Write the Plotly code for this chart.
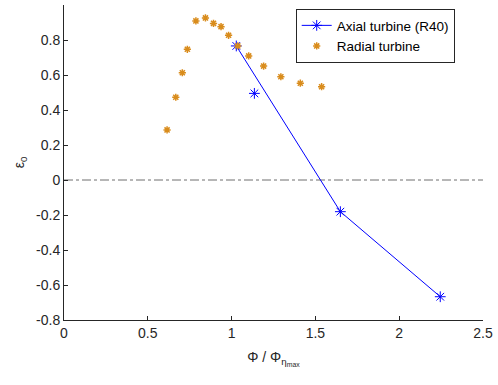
import plotly.graph_objects as go

# Axial turbine (R40) – connected series
axial_x = [1.028, 1.649, 2.245]
axial_y = [0.766, -0.181, -0.667]
# Axial turbine extra (unconnected) point
axial_extra_x = [1.136]
axial_extra_y = [0.495]

# Radial turbine
radial_x = [0.615, 0.667, 0.706, 0.736, 0.787, 0.844, 0.892, 0.937, 0.982,
            1.037, 1.102, 1.191, 1.294, 1.410, 1.537]
radial_y = [0.286, 0.473, 0.613, 0.747, 0.909, 0.926, 0.895, 0.876, 0.827,
            0.766, 0.709, 0.651, 0.590, 0.553, 0.533]

# Zero reference line
ref_x = [0, 2.5]
ref_y = [0, 0]

x_ticks = [0, 0.5, 1, 1.5, 2, 2.5]
x_ticktext = ["0", "0.5", "1", "1.5", "2", "2.5"]
y_ticks = [-0.8, -0.6, -0.4, -0.2, 0, 0.2, 0.4, 0.6, 0.8]
y_ticktext = ["-0.8", "-0.6", "-0.4", "-0.2", "0", "0.2", "0.4", "0.6", "0.8"]

BLUE = "#0000FF"
ORANGE = "#D98C1C"
AX = "#262626"
FONT = "Liberation Sans, Arial, sans-serif"

fig = go.Figure()
fig.add_trace(go.Scatter(x=ref_x, y=ref_y, mode="lines",
                         line=dict(color="#6e6e6e", width=1, dash="dashdot"),
                         showlegend=False, hoverinfo="skip"))
fig.add_trace(go.Scatter(x=axial_x, y=axial_y, mode="lines+markers",
                         name="Axial turbine (R40)",
                         line=dict(color=BLUE, width=1),
                         marker=dict(symbol="asterisk-open", size=9,
                                     line=dict(color=BLUE, width=1))))
fig.add_trace(go.Scatter(x=axial_extra_x, y=axial_extra_y, mode="markers",
                         showlegend=False,
                         marker=dict(symbol="asterisk-open", size=9,
                                     color=BLUE,
                                     line=dict(color=BLUE, width=1))))
fig.add_trace(go.Scatter(x=radial_x, y=radial_y, mode="markers",
                         name="Radial turbine",
                         marker=dict(symbol="asterisk-open", size=6,
                                     color=ORANGE,
                                     line=dict(color=ORANGE, width=1.5))))

fig.update_layout(
    width=498, height=385,
    margin=dict(l=64, r=11, t=5, b=65),
    paper_bgcolor="white", plot_bgcolor="white",
    font=dict(family=FONT, size=14, color=AX),
    legend=dict(x=0.553, y=0.987, xanchor="left", yanchor="top",
                bgcolor="white", bordercolor=AX, borderwidth=1,
                font=dict(size=13.5, color="#000000"),
                tracegroupgap=0, itemwidth=30),
    xaxis=dict(range=[0, 2.5], tickvals=x_ticks, ticktext=x_ticktext,
               showline=True, linecolor=AX, linewidth=1, mirror=False,
               ticks="inside", ticklen=4, tickcolor=AX, showgrid=False,
               zeroline=False, ticklabeloverflow="allow",
               title=dict(text="Φ / Φ<sub>η<sub>max</sub></sub>",
                          font=dict(size=14, color=AX), standoff=12)),
    yaxis=dict(range=[-0.8, 1.0], tickvals=y_ticks, ticktext=y_ticktext,
               showline=True, linecolor=AX, linewidth=1, mirror=False,
               ticks="inside", ticklen=4, tickcolor=AX, showgrid=False,
               zeroline=False, ticklabeloverflow="allow",
               title=dict(text="ε<sub>0</sub>",
                          font=dict(size=14, color=AX), standoff=8)),
)

fig.write_html("out.html", config={"displayModeBar": False, "staticPlot": True})

# remove the browser's default page margin so the figure sits at (0, 0)
with open("out.html", "r", encoding="utf-8") as f:
    html = f.read()
html = html.replace("<head>", "<head><style>html,body{margin:0;padding:0;overflow:hidden;}</style>", 1)
with open("out.html", "w", encoding="utf-8") as f:
    f.write(html)
